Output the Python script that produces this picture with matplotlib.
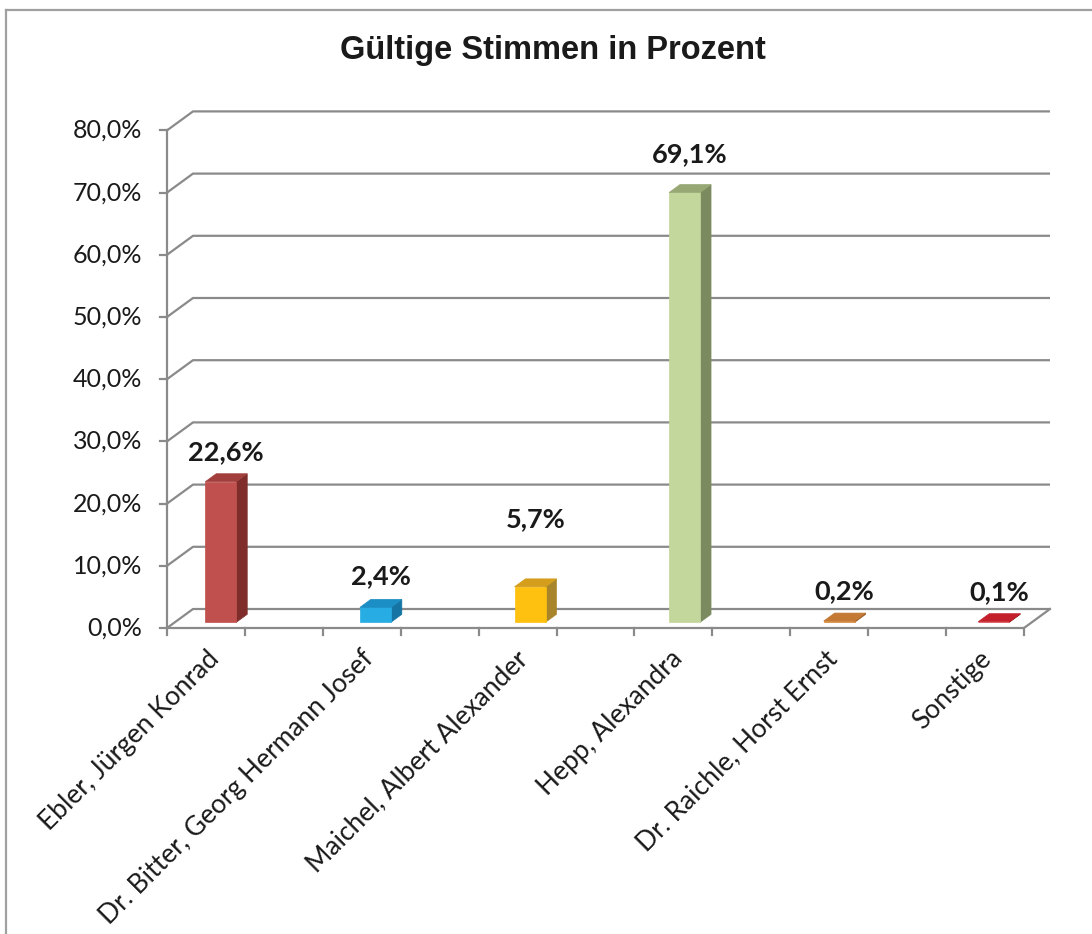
"""
Gültige Stimmen in Prozent - 3D style column chart (Excel look)
"""

import matplotlib
matplotlib.use('Agg')
import matplotlib.pyplot as plt
from matplotlib.patches import Polygon
from matplotlib.lines import Line2D
import numpy as np

# Data
candidates = ['Ebler, Jürgen Konrad', 'Dr. Bitter, Georg Hermann Josef',
              'Maichel, Albert Alexander', 'Hepp, Alexandra',
              'Dr. Raichle, Horst Ernst', 'Sonstige']
shares = [22.6, 2.4, 5.7, 69.1, 0.2, 0.1]
y_ticks = [0, 10, 20, 30, 40, 50, 60, 70, 80]

# Styles (front, side, top)
bar_colors = [('#C0504D', '#7F2D2B', '#A23F3C'),
              ('#27ADE3', '#1674A4', '#1B8EC5'),
              ('#FEC110', '#A8842A', '#D49E1C'),
              ('#C3D69B', '#7C8B5F', '#98A874'),
              ('#D98838', '#945A25', '#C47934'),
              ('#D8222B', '#8E1419', '#C4202B')]
label_pad = [10, 11, 37, 16, 10, 10]   # points above the bar top
grid_col = '#8A8A8A'

W, H = 1092, 934
fig = plt.figure(figsize=(W / 100, H / 100), dpi=100)

# axes placed in pixel layout; data units = category index / percent
px_per_cat = 154.6
px_per_pct = 6.22
x_center0 = 213
y_zero = 628
ax_l, ax_r, ax_t, ax_b = 167, 1065, 95, 645
ax = fig.add_axes([ax_l / W, (H - ax_b) / H, (ax_r - ax_l) / W, (ax_b - ax_t) / H])
ax.set_xlim((ax_l - x_center0) / px_per_cat, (ax_r - x_center0) / px_per_cat)
ax.set_ylim((y_zero - ax_b) / px_per_pct, (y_zero - ax_t) / px_per_pct)
ax.axis('off')

DX = 26 / px_per_cat     # depth of the floor in x
DY = 19 / px_per_pct     # depth of the floor in y
x0 = (167 - x_center0) / px_per_cat
x1 = (1024 - x_center0) / px_per_cat

def proj(x, v, d):
    return (x + d * DX, v + d * DY)

lw = 1.6
# gridlines / back wall
for v in y_ticks:
    ax.plot([x0, x0 + DX, x1 + DX], [v, v + DY, v + DY], color=grid_col,
            lw=lw, clip_on=False, solid_capstyle='butt')
# y axis
ax.plot([x0, x0], [0, y_ticks[-1]], color=grid_col, lw=lw, clip_on=False)
tick_len = 7 / px_per_cat
for v in y_ticks:
    ax.plot([x0 - tick_len, x0], [v, v], color=grid_col, lw=lw, clip_on=False)
    ax.text(x0 - 25 / px_per_cat, v, f'{v:.1f}%'.replace('.', ','),
            ha='right', va='center', fontsize=18, family='Lato', color='#1a1a1a')
# floor
ax.plot([x0, x1, x1 + DX], [0, 0, DY], color=grid_col, lw=lw, clip_on=False)
for xt in np.linspace(x0, x1, 12):
    ax.plot([xt, xt], [0, -7 / px_per_pct], color=grid_col, lw=lw, clip_on=False)

# bars
w = 31 / px_per_cat
d0, d1 = 0.3, 0.72
for i, val in enumerate(shares):
    front, side, top = bar_colors[i]
    xl, xr = i - w / 2, i + w / 2
    pts_front = [proj(xl, 0, d0), proj(xr, 0, d0), proj(xr, val, d0), proj(xl, val, d0)]
    pts_side = [proj(xr, 0, d0), proj(xr, 0, d1), proj(xr, val, d1), proj(xr, val, d0)]
    pts_top = [proj(xl, val, d0), proj(xr, val, d0), proj(xr, val, d1), proj(xl, val, d1)]
    for pts, c in [(pts_side, side), (pts_front, front), (pts_top, top)]:
        ax.add_patch(Polygon(pts, closed=True, facecolor=c, edgecolor=c,
                             lw=0.5, zorder=3))
    lx, ly = proj(i, val, (d0 + d1) / 2)
    ax.annotate(f'{val:.1f}%'.replace('.', ','), (lx, ly),
                xytext=(0, label_pad[i]), textcoords='offset points',
                ha='center', va='bottom', fontsize=19.5, fontweight='bold',
                family='Lato', color='#1a1a1a', zorder=4)

# category labels
for i, name in enumerate(candidates):
    ax.annotate(name, (i, 0), xytext=(-5, -13), textcoords='offset points',
                rotation=45, rotation_mode='anchor', ha='right', va='top',
                fontsize=19, family='Lato', color='#1a1a1a')

# title
fig.text(553 / W, 1 - 50 / H, 'Gültige Stimmen in Prozent', ha='center',
         va='center', fontsize=23.5, fontweight='bold', family='Liberation Sans',
         color='#1a1a1a')

# outer chart frame (cut off at right / bottom)
fig.add_artist(Line2D([6 / W, 6 / W], [0, 1 - 10 / H], color='#A0A0A0',
                      lw=1.6, transform=fig.transFigure))
fig.add_artist(Line2D([6 / W, 1], [1 - 10 / H, 1 - 10 / H], color='#A0A0A0',
                      lw=1.6, transform=fig.transFigure))

fig.savefig('out.png', dpi=100)
